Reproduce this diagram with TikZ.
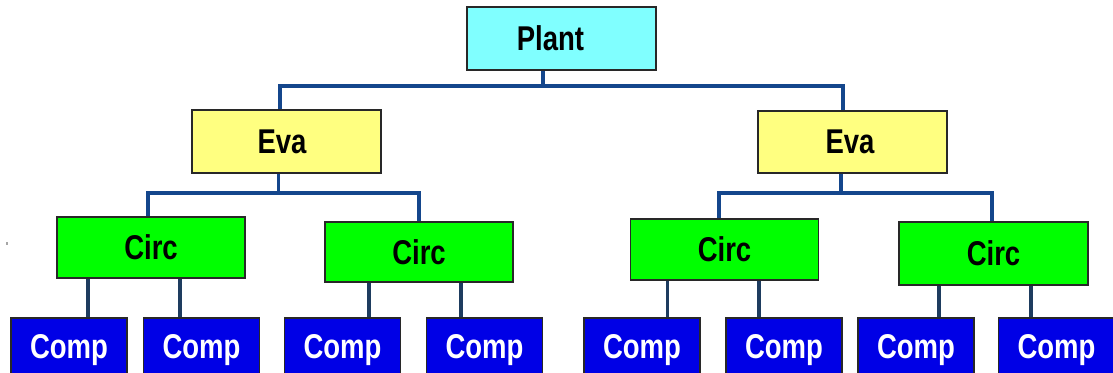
\documentclass[tikz,border=0pt]{standalone}
\usepackage{fontspec}
\usepackage{graphicx}
\setmainfont{Liberation Sans}
\definecolor{plantc}{RGB}{128,255,255}
\definecolor{evac}{RGB}{255,255,128}
\definecolor{circc}{RGB}{0,255,0}
\definecolor{compc}{RGB}{0,0,230}
\definecolor{upline}{RGB}{20,70,140}
\definecolor{lowline}{RGB}{30,60,95}
\definecolor{edge}{RGB}{40,40,40}
\newcommand{\tx}[1]{\scalebox{1}[1.25]{#1}}
\newcommand{\padr}[1]{\rule{#1}{0pt}}
\tikzset{
  box/.style={draw=edge, line width=1.8pt, inner sep=0pt, anchor=center,
    font=\bfseries\fontsize{27.5}{27.5}\selectfont},
  plantbox/.style={box, fill=plantc, minimum width=189pt, minimum height=63pt},
  evabox/.style={box, fill=evac, minimum width=189pt, minimum height=63pt},
  circbox/.style={box, fill=circc, minimum width=188pt, minimum height=61pt},
  compbox/.style={box, fill=compc, text=white, minimum width=116pt, minimum height=64pt},
  conn/.style={draw=upline, line width=3.4pt},
  lconn/.style={draw=lowline, line width=3.4pt}
}
\begin{document}
\begin{tikzpicture}[x=1pt,y=-1pt]
\useasboundingbox (0,0) rectangle (1113,372);
% stray mark
\fill[gray!70] (6,242) rectangle (8,245);
% nodes
\node[plantbox] (P) at (561.5,38.5) {\tx{Plant}\padr{22pt}};
\node[evabox] (EL) at (286.5,141.5) {\tx{Eva}\padr{9pt}};
\node[evabox, minimum height=62pt] (ER) at (852.5,142) {\tx{Eva}\padr{5pt}};
\node[circbox] (C1) at (151,247.5) {\tx{Circ}};
\node[circbox, minimum height=60pt] (C2) at (419,252) {\tx{Circ}};
\node[circbox] (C3) at (724.5,249.5) {\tx{Circ}};
\node[circbox, minimum height=63pt, minimum width=189pt] (C4) at (993.5,253.5) {\tx{Circ}};
\node[compbox] (K1) at (69,350) {\tx{Comp}};
\node[compbox] (K2) at (201.5,350) {\tx{Comp}};
\node[compbox] (K3) at (342.5,350) {\tx{Comp}};
\node[compbox] (K4) at (484.5,350) {\tx{Comp}};
\node[compbox] (K5) at (642,350) {\tx{Comp}};
\node[compbox] (K6) at (784,350) {\tx{Comp}};
\node[compbox] (K7) at (916,350) {\tx{Comp}};
\node[compbox] (K8) at (1056.5,350) {\tx{Comp}};
% junction coordinates
\coordinate (jP) at (543,86);
\coordinate (xEL) at (280,0);
\coordinate (xER) at (843,0);
\coordinate (jL) at (278.5,193);
\coordinate (xC1) at (148,0);
\coordinate (xC2) at (419,0);
\coordinate (jR) at (841,193);
\coordinate (xC3) at (719,0);
\coordinate (xC4) at (992,0);
\coordinate (s1) at (88,0);
\coordinate (s2) at (180,0);
\coordinate (s3) at (369,0);
\coordinate (s4) at (461,0);
\coordinate (s5) at (667.5,0);
\coordinate (s6) at (759,0);
\coordinate (s7) at (939,0);
\coordinate (s8) at (1031,0);
% connectors level 1
\draw[conn] (P.south -| jP) -- (jP);
\draw[conn] (EL.north -| xEL) |- (jP) -| (ER.north -| xER);
% level 2
\draw[conn] (EL.south -| jL) -- (jL);
\draw[conn] (C1.north -| xC1) |- (jL) -| (C2.north -| xC2);
\draw[conn] (ER.south -| jR) -- (jR);
\draw[conn] (C3.north -| xC3) |- (jR) -| (C4.north -| xC4);
% level 3
\draw[lconn] (C1.south -| s1) -- (K1.north -| s1);
\draw[lconn] (C1.south -| s2) -- (K2.north -| s2);
\draw[lconn] (C2.south -| s3) -- (K3.north -| s3);
\draw[lconn] (C2.south -| s4) -- (K4.north -| s4);
\draw[lconn] (C3.south -| s5) -- (K5.north -| s5);
\draw[lconn] (C3.south -| s6) -- (K6.north -| s6);
\draw[lconn] (C4.south -| s7) -- (K7.north -| s7);
\draw[lconn] (C4.south -| s8) -- (K8.north -| s8);
\end{tikzpicture}
\end{document}
